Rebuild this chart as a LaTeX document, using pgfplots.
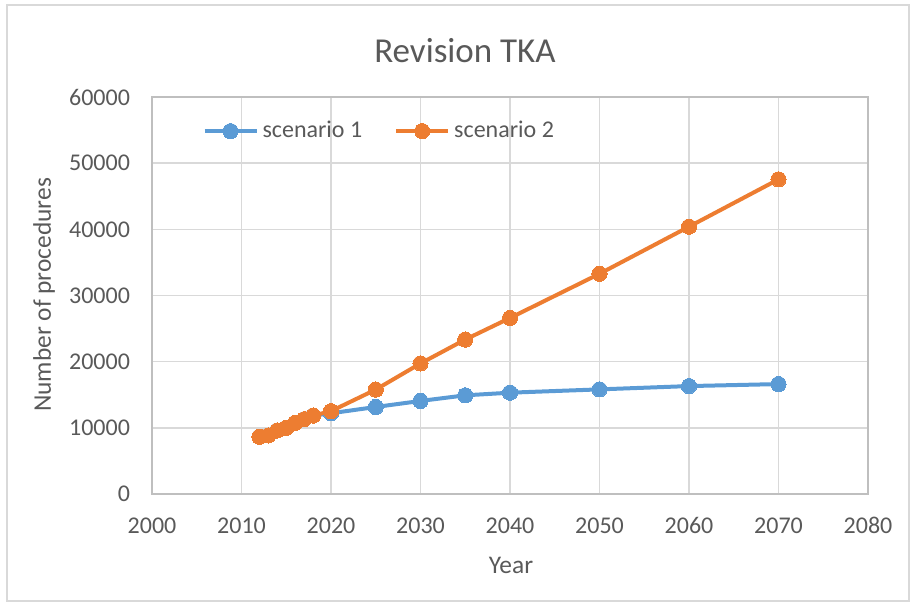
\documentclass[border=0pt]{standalone}
\usepackage{pgfplots}
\pgfplotsset{compat=1.18}
\usepackage{fontspec}
\setmainfont{Carlito}
\definecolor{sblue}{HTML}{5B9BD5}
\definecolor{sorange}{HTML}{ED7D31}
\definecolor{txt}{HTML}{595959}
\definecolor{grd}{HTML}{D9D9D9}
\definecolor{frm}{HTML}{BFBFBF}
\begin{document}
\begin{tikzpicture}[x=0.5pt,y=0.5pt]
\useasboundingbox (0,0) rectangle (912,603);
\draw[grd,line width=1pt] (7,2) rectangle (909,598);
\coordinate (SW) at (152,109);
\begin{axis}[
  at={(SW)}, anchor=south west,
  scale only axis, width=358pt, height=198.5pt,
  xmin=2000, xmax=2080, ymin=0, ymax=60000,
  xtick={2000,2010,...,2080}, ytick={0,10000,...,60000},
  grid=major, major grid style={grd,line width=0.8pt},
  axis line style={frm,line width=0.8pt},
  major tick length=0pt,
  scaled y ticks=false,
  /pgf/number format/assume math mode=true,
  /pgf/number format/1000 sep={},
  tick label style={txt,font=\fontsize{12}{14}\selectfont},
  xticklabel style={anchor=base, yshift=-20pt},
  yticklabel style={xshift=-7.5pt},
  legend style={at={(0.070,0.914)}, anchor=west, draw=none, fill=none,
    inner sep=0pt, font=\fontsize{12}{14}\selectfont, text=txt,
    legend columns=2,
    /tikz/every even column/.append style={column sep=14pt}},
  legend cell align=left,
  legend image code/.code={\draw[mark repeat=2,mark phase=2,#1] plot coordinates {(0pt,0pt) (13pt,0pt) (26pt,0pt)};},
]
\addplot[sblue, line width=2pt, mark=*, mark size=3.8pt, mark options={fill=sblue,draw=sblue,line width=0pt}] coordinates {
(2012,8650) (2013,8850) (2014,9600) (2015,10000) (2016,10750) (2017,11300) (2018,11850)
(2020,12200) (2025,13150) (2030,14060) (2035,14910) (2040,15310) (2050,15810) (2060,16310) (2070,16610)};
\addlegendentry{scenario 1}
\addplot[sorange, line width=2pt, mark=*, mark size=3.8pt, mark options={fill=sorange,draw=sorange,line width=0pt}] coordinates {
(2012,8650) (2013,8850) (2014,9600) (2015,10000) (2016,10750) (2017,11300) (2018,11850)
(2020,12520) (2025,15780) (2030,19730) (2035,23340) (2040,26600) (2050,33280) (2060,40400) (2070,47550)};
\addlegendentry{scenario 2}
\end{axis}
\node[txt,font=\fontsize{17.5}{20}\selectfont] at (465,552) {Revision TKA};
\node[txt,font=\fontsize{12.7}{15}\selectfont] at (511,38) {Year};
\node[txt,font=\fontsize{12.7}{15}\selectfont,rotate=90] at (44,308) {Number of procedures};
\end{tikzpicture}
\end{document}
